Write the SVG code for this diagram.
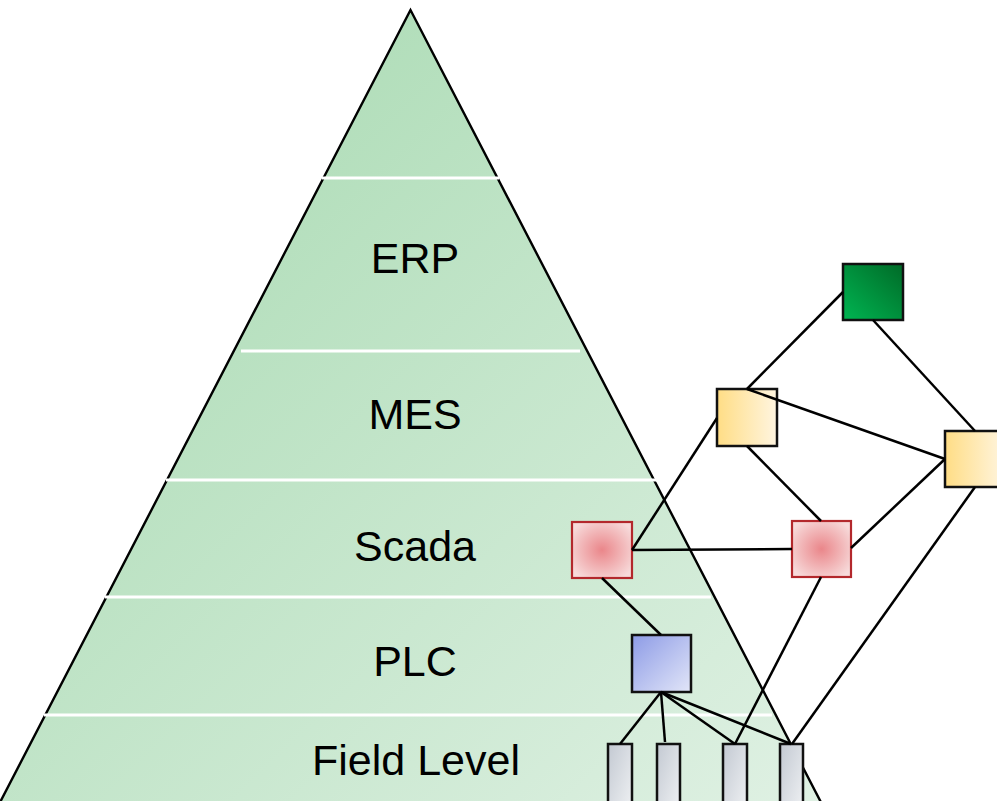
<svg xmlns="http://www.w3.org/2000/svg" width="997" height="801" viewBox="0 0 997 801">
<defs>
<linearGradient id="gTri" x1="0" y1="0" x2="1" y2="1">
<stop offset="0" stop-color="#a3d8ad"/>
<stop offset="1" stop-color="#e0f1e4"/>
</linearGradient>
<radialGradient id="gRed" cx="0.5" cy="0.5" r="0.6">
<stop offset="0" stop-color="#ea868a"/>
<stop offset="1" stop-color="#f7dada"/>
</radialGradient>
<linearGradient id="gBlue" x1="0" y1="0" x2="1" y2="1">
<stop offset="0" stop-color="#8d9be6"/>
<stop offset="1" stop-color="#e2e6f8"/>
</linearGradient>
<linearGradient id="gYel" x1="0" y1="0" x2="1" y2="0">
<stop offset="0" stop-color="#ffdd85"/>
<stop offset="1" stop-color="#fff5e0"/>
</linearGradient>
<linearGradient id="gGrn" x1="0" y1="1" x2="1" y2="0">
<stop offset="0" stop-color="#00b552"/>
<stop offset="1" stop-color="#006a27"/>
</linearGradient>
<linearGradient id="gDev" x1="0" y1="0" x2="1" y2="1">
<stop offset="0" stop-color="#c3c9d2"/>
<stop offset="1" stop-color="#f0f2f4"/>
</linearGradient>
</defs>
<style>
.lbl{font-family:"Liberation Sans",Arial,sans-serif;font-size:43px;fill:#000;text-anchor:middle}
.sep{stroke:#fff;stroke-width:3}
.con{stroke:#000;stroke-width:2.5;fill:none}
.node{stroke:#111;stroke-width:2.5}
.red{fill:url(#gRed);stroke:#b3282c;stroke-width:2.2}
</style>
<g id="pyramid">
<polygon points="410.5,10 -5,812 826,812" fill="url(#gTri)" stroke="#000" stroke-width="2.4"/>
<line class="sep" x1="322" y1="178" x2="499" y2="178"/>
<line class="sep" x1="241" y1="351" x2="580" y2="351"/>
<line class="sep" x1="166" y1="480" x2="658" y2="480"/>
<line class="sep" x1="105" y1="597" x2="711" y2="597"/>
<line class="sep" x1="44" y1="715" x2="772" y2="715"/>
<text class="lbl" x="415" y="273">ERP</text>
<text class="lbl" x="415" y="429">MES</text>
<text class="lbl" x="415" y="561">Scada</text>
<text class="lbl" x="415" y="676">PLC</text>
<text class="lbl" x="416" y="775">Field Level</text>
</g>
<g id="node-erp"><rect class="node" x="843" y="264" width="60" height="56" fill="url(#gGrn)"/></g>
<g id="node-mes1"><rect class="node" x="717" y="389" width="60" height="57" fill="url(#gYel)"/></g>
<g id="node-mes2"><rect class="node" x="945" y="431" width="60" height="56" fill="url(#gYel)"/></g>
<g id="node-scada1"><rect class="red" x="572" y="522" width="60" height="56"/></g>
<g id="node-scada2"><rect class="red" x="792" y="521" width="59" height="56"/></g>
<g id="node-plc"><rect class="node" x="632" y="635" width="59" height="57" fill="url(#gBlue)"/></g>
<g id="node-field1"><rect class="node" x="608" y="744" width="24" height="70" fill="url(#gDev)"/></g>
<g id="node-field2"><rect class="node" x="657" y="744" width="23" height="70" fill="url(#gDev)"/></g>
<g id="node-field3"><rect class="node" x="723" y="744" width="24" height="70" fill="url(#gDev)"/></g>
<g id="node-field4"><rect class="node" x="780" y="744" width="23" height="70" fill="url(#gDev)"/></g>
<g id="connectors">
<line class="con" x1="843" y1="292" x2="747" y2="389"/>
<line class="con" x1="873" y1="320" x2="975" y2="431"/>
<line class="con" x1="747" y1="389" x2="945" y2="459"/>
<line class="con" x1="717" y1="418" x2="632" y2="550"/>
<line class="con" x1="747" y1="446" x2="821" y2="521"/>
<line class="con" x1="945" y1="459" x2="851" y2="548"/>
<line class="con" x1="975" y1="487" x2="792" y2="744"/>
<line class="con" x1="632" y1="550" x2="792" y2="549"/>
<line class="con" x1="602" y1="578" x2="661" y2="635"/>
<line class="con" x1="821" y1="577" x2="735" y2="744"/>
<line class="con" x1="661" y1="692" x2="620" y2="744"/>
<line class="con" x1="661" y1="692" x2="665" y2="742"/>
<line class="con" x1="661" y1="692" x2="735" y2="744"/>
<line class="con" x1="661" y1="692" x2="791" y2="744"/>
</g>
</svg>
